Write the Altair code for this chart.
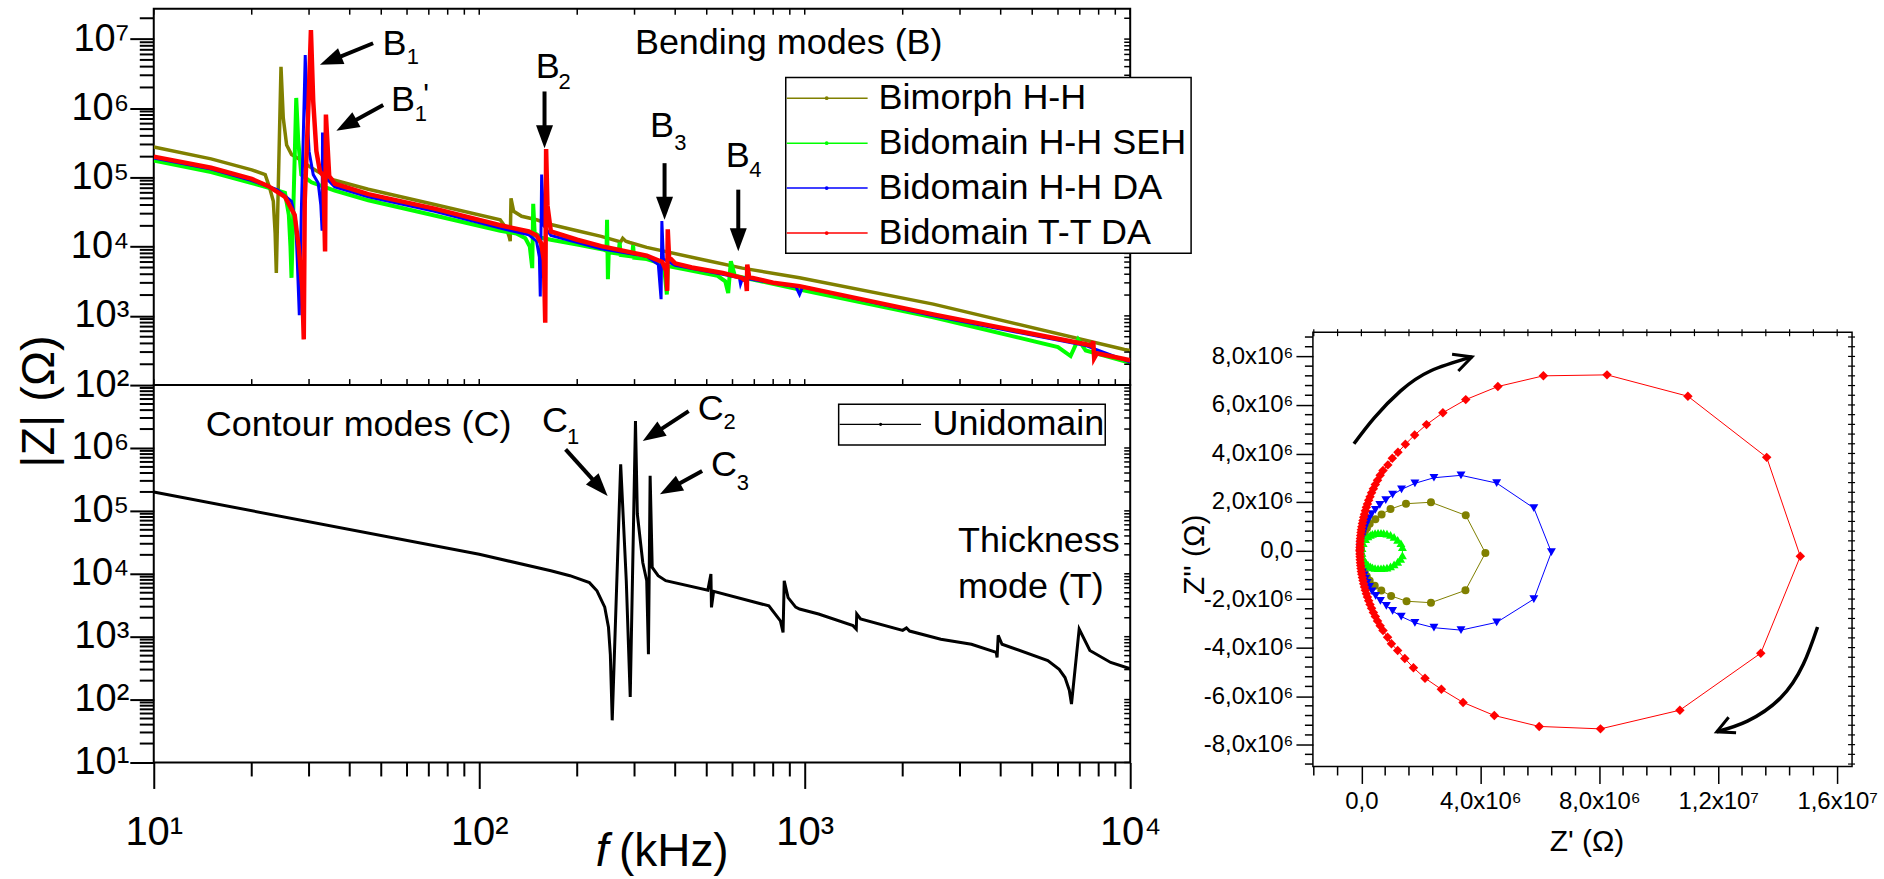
import altair as alt
import pandas as pd

FONT = "Liberation Sans"
OLIVE, GREEN, BLUE, RED = "#808000", "#00ff00", "#0000ff", "#ff0000"

# ================= |Z|(f) - bending modes (top left). f in kHz, |Z| in ohm =================
bim_f = [10, 15, 20, 22.0, 22.7, 23.3, 23.6, 23.8, 24.6, 25.0, 25.6, 26.5, 28.1, 30.5, 34, 36, 45.6, 72.9, 116, 121,
         123.5, 124.5, 125.2, 127.6, 135, 150, 166, 200, 237, 272, 276, 282, 290, 327, 500, 643, 964, 2483, 9600, 10000]
bim_z = [275000, 186000, 129000, 110000, 70800, 45200, 15800, 4170, 3980000, 724000, 295000, 214000, 182000, 138000,
         102000, 91200, 67600, 40700, 24500, 18600, 14100, 12000, 50100, 32400, 27500, 24500, 20900, 17000, 14100,
         11700, 13200, 12000, 11500, 9770, 6310, 4900, 3550, 1480, 327, 316]

seh_f = [10, 15, 20, 23, 25.3, 26.0, 26.3, 26.5, 27.0, 27.4, 27.8, 28.4, 30.5, 36, 45.6, 72.9, 116, 130, 138.6, 143,
         145.5, 146.5, 148, 155, 166, 200, 240, 246, 247, 248.5, 250, 268, 270, 272, 295, 297, 299, 327, 360, 370,
         377, 380, 420, 540, 570, 582, 593, 610, 964, 2483, 6000, 6560, 6920, 7300, 10000]
seh_z = [176000, 120000, 83200, 69200, 60300, 28800, 10000, 3550, 100000, 1410000, 331000, 110000, 85100, 64600,
         46800, 28200, 17000, 15500, 13200, 10000, 4900, 41700, 15800, 13500, 12600, 10700, 9120, 8710, 24500, 3390,
         8320, 7940, 11500, 7590, 7240, 10500, 6920, 6610, 5750, 5010, 2040, 5250, 4790, 3800, 3160, 2140, 6170,
         3800, 2400, 955, 355, 263, 457, 316, 209]

dah_f = [10, 15, 20, 24, 26.5, 27.3, 27.6, 28.0, 28.4, 28.8, 29.2, 29.6, 30.0, 30.9, 32.0, 32.6, 32.9, 33.0, 33.4,
         34.5, 36, 45.6, 72.9, 116, 142, 150, 153, 154, 155.5, 158, 166, 237, 327, 355, 362, 364, 368, 400, 560, 630,
         635, 645, 940, 964, 985, 2483, 7310, 10000]
dah_z = [191000, 132000, 90200, 66100, 45200, 23400, 6310, 1020, 31600, 398000, 5890000, 794000, 240000, 110000,
         83200, 39800, 17000, 447000, 100000, 89100, 73300, 52500, 32400, 18600, 14800, 12000, 7080, 1910, 110000,
         20000, 14500, 9330, 7240, 5500, 1740, 23400, 6610, 5370, 3980, 3550, 2880, 3550, 2630, 2040, 2630, 1000,
         372, 214]

ttd_f = [10, 15, 20, 22.5, 25.3, 27.1, 27.9, 28.6, 28.9, 29.1, 29.9, 30.4, 30.9, 31.6, 32.4, 33.2, 33.6, 33.8, 34.6,
         36, 45.6, 72.9, 116, 142, 150, 155, 158, 159.5, 160.5, 162, 166, 200, 237, 327, 365, 375, 378, 379.5, 383,
         400, 450, 560, 640, 660, 664, 666, 675, 800, 964, 2483, 7310, 7600, 7700, 7750, 7900, 10000]
ttd_z = [200000, 138000, 95500, 75000, 52500, 28800, 9550, 2510, 457, 45700, 1260000, 13500000, 1260000, 240000,
         123000, 105000, 8510, 813000, 105000, 81300, 57500, 35500, 20400, 16600, 14500, 11200, 6310, 794, 257000,
         39800, 16600, 12600, 10200, 7410, 6030, 4470, 2290, 17800, 7080, 5750, 5010, 4170, 3550, 3160, 2290, 5500,
         3630, 3020, 2690, 1050, 389, 372, 427, 245, 288, 229]

# ================= |Z|(f) - unidomain, contour / thickness modes (bottom left) =================
uni_f = [10, 100, 166, 190, 218, 230, 243, 249.5, 252.8, 256.2, 272, 283, 291, 302, 306, 318, 327, 331, 335, 340,
         354.5, 374, 504, 515, 517, 525, 776, 842, 858, 865, 889, 938, 964, 1103, 1407, 1440, 1445, 1485, 2000, 2054,
         2100, 2620, 3253, 3876, 3900, 3931, 4038, 5583, 6050, 6305, 6500, 6601, 6970, 7517, 8710, 10000]
uni_z = [200000, 20400, 11200, 9330, 7240, 5370, 2950, 1410, 525, 46.8, 550000, 7760, 110, 2690000, 89100, 15100,
         7760, 525, 363000, 12600, 9330, 7760, 5500, 9890, 2920, 5250, 3090, 1780, 1170, 7760, 4170, 2950, 2750,
         2290, 1500, 1320, 2290, 1910, 1260, 1380, 1230, 912, 759, 562, 468, 1050, 759, 417, 302, 224, 141, 85,
         1320, 603, 389, 309]

# ================= Nyquist plot (right). Z' and Z'' in units of 10^6 ohm =================
nq_bim_x = [-0.028, -0.018, 0.0, 0.026, 0.064, 0.116, 0.187, 0.28, 0.47, 0.68, 0.98, 1.50, 2.34, 3.51, 4.17, 3.50,
            2.34, 1.52, 1.00, 0.67, 0.45, 0.28, 0.18, 0.11, 0.06, 0.025, 0.0, -0.018, -0.028]
nq_bim_y = [0.10, 0.22, 0.35, 0.48, 0.62, 0.77, 0.93, 1.10, 1.29, 1.49, 1.71, 1.93, 1.99, 1.45, -0.10, -1.64, -2.15,
            -2.09, -1.87, -1.65, -1.45, -1.25, -1.06, -0.88, -0.71, -0.55, -0.40, -0.25, -0.10]

nq_seh_x = [0.02, 0.06, 0.14, 0.22, 0.30, 0.37, 0.46, 0.56, 0.66, 0.75, 0.86, 0.98, 1.10, 1.22, 1.33, 1.38, 1.38,
            1.32, 1.22, 1.10, 0.98, 0.86, 0.75, 0.66, 0.56, 0.46, 0.37, 0.30, 0.22, 0.14, 0.06, 0.02]
nq_seh_y = [0.10, 0.30, 0.47, 0.58, 0.65, 0.69, 0.72, 0.73, 0.73, 0.72, 0.70, 0.65, 0.56, 0.44, 0.30, 0.14, -0.20,
            -0.34, -0.47, -0.57, -0.65, -0.70, -0.72, -0.73, -0.73, -0.72, -0.69, -0.65, -0.58, -0.47, -0.30, -0.10]

nq_dah_x = [-0.029, -0.025, -0.017, -0.005, 0.011, 0.033, 0.059, 0.093, 0.137, 0.19, 0.26, 0.343, 0.47, 0.62, 0.82,
            1.05, 1.35, 1.80, 2.44, 3.35, 4.55, 5.80, 6.39, 5.80, 4.55, 3.35, 2.44, 1.80, 1.34, 1.05, 0.84, 0.64, 0.48,
            0.36, 0.27, 0.19, 0.137, 0.093, 0.059, 0.033, 0.011, -0.005, -0.017, -0.025, -0.029, -0.03]
nq_dah_y = [0.07, 0.18, 0.29, 0.40, 0.51, 0.63, 0.75, 0.88, 1.02, 1.17, 1.33, 1.50, 1.68, 1.88, 2.08, 2.30, 2.52,
            2.77, 3.00, 3.10, 2.78, 1.75, -0.07, -2.00, -2.96, -3.28, -3.18, -2.98, -2.72, -2.49, -2.28, -2.07, -1.87,
            -1.68, -1.50, -1.33, -1.17, -1.02, -0.88, -0.75, -0.63, -0.51, -0.40, -0.29, -0.18, -0.07]

nq_ttd_x = [-0.05, -0.049, -0.045, -0.041, -0.033, -0.024, -0.013, 0.0, 0.015, 0.034, 0.055, 0.078, 0.104, 0.134,
            0.167, 0.204, 0.245, 0.291, 0.343, 0.403, 0.468, 0.542, 0.631, 0.727,
            0.89, 1.04, 1.23, 1.48, 1.79, 2.19, 2.74, 3.51, 4.59, 6.12, 8.26, 10.98, 13.63, 14.76, 13.43, 10.71, 8.04,
            5.98, 4.47, 3.42, 2.69, 2.14, 1.75, 1.46, 1.22, 1.01, 0.88,
            0.727, 0.631, 0.542, 0.468, 0.403, 0.343, 0.291, 0.245, 0.204, 0.167, 0.134, 0.104, 0.078, 0.055, 0.034,
            0.015, 0.0, -0.013, -0.024, -0.033, -0.041, -0.045, -0.049, -0.05]
nq_ttd_y = [0.02, 0.14, 0.26, 0.38, 0.50, 0.62, 0.74, 0.86, 0.98, 1.11, 1.24, 1.37, 1.50, 1.64, 1.78, 1.92, 2.07,
            2.22, 2.38, 2.55, 2.72, 2.90, 3.10, 3.30,
            3.53, 3.80, 4.05, 4.38, 4.76, 5.19, 5.68, 6.22, 6.76, 7.20, 7.24, 6.36, 3.84, -0.24, -4.23, -6.58, -7.35,
            -7.25, -6.80, -6.26, -5.72, -5.26, -4.83, -4.45, -4.12, -3.84, -3.57,
            -3.30, -3.10, -2.90, -2.72, -2.55, -2.38, -2.22, -2.07, -1.92, -1.78, -1.64, -1.50, -1.37, -1.24, -1.11,
            -0.98, -0.86, -0.74, -0.62, -0.50, -0.38, -0.26, -0.14, -0.02]

# rotation arrows in the Nyquist plot (curve points, then the open heads)
nq_arrow_x = [-0.25, 0.44, 1.32, 2.32, 3.72, 15.34, 14.86, 14.10, 12.98, 11.95]
nq_arrow_y = [4.40, 5.48, 6.58, 7.40, 7.98, -3.15, -4.69, -6.07, -7.03, -7.47]
nq_arrow_g = [0, 0, 0, 0, 0, 1, 1, 1, 1, 1]
nq_head_x = [3.05, 3.72, 3.26, 12.60, 11.95, 12.35]
nq_head_y = [8.09, 7.98, 7.40, -7.51, -7.47, -6.87]
nq_head_g = [0, 0, 0, 1, 1, 1]

# annotation anchors (data units)
b_lab_f = [54.9, 58.3, 162.3, 364, 623]
b_lab_z = [8.6e6, 1.3e6, 3.94e6, 5.46e5, 2.05e5]
b_sub_f = [62.5, 66.2, 182.9, 415, 705]
b_sub_z = [5.6e6, 8.3e5, 2.36e6, 3.2e5, 1.27e5]
b_sub_t = ["1", "1", "2", "3", "4"]
b_arr_tail_f = [47.2, 50.7, 158.7, 371, 625]
b_arr_tail_z = [8.7e6, 1.12e6, 1.75e6, 1.61e5, 6.67e4]
b_arr_end_f = [35.7, 39.95, 158.7, 371, 625]
b_arr_end_z = [5.1e6, 6.04e5, 4.38e5, 4.05e4, 1.41e4]
b_arr_tip_f = [32.4, 36.4, 158.7, 371, 625]
b_arr_tip_z = [4.25e6, 4.73e5, 2.65e5, 2.46e4, 8.6e3]
b_arr_ang = [248, 241, 180, 180, 180]

c_lab_f = [171, 514, 565]
c_lab_z = [2.68e6, 4.24e6, 5.33e5]
c_sub_f = [194.2, 588, 646]
c_sub_z = [1.52e6, 2.6e6, 2.74e5]
c_sub_t = ["1", "2", "3"]
c_arr_tail_f = [184.2, 440, 484]
c_arr_tail_z = [9.5e5, 3.86e6, 4.31e5]
c_arr_end_f = [231, 347.6, 393.9]
c_arr_end_z = [2.59e5, 1.74e6, 2.39e5]
c_arr_tip_f = [248, 318, 359]
c_arr_tip_z = [1.73e5, 1.29e6, 1.84e5]
c_arr_ang = [138, 237, 241]

legend_names = ["Bimorph H-H", "Bidomain H-H SEH", "Bidomain H-H DA", "Bidomain T-T DA"]
legend_colors = [OLIVE, GREEN, BLUE, RED]

# ---------------------------------------------------------------------------------------------
def fz(fs, zs):
    return pd.DataFrame({"f": fs, "z": zs, "i": list(range(len(fs)))})


def xy(xs, ys, g=None):
    d = pd.DataFrame({"x": xs, "y": ys, "i": list(range(len(xs)))})
    if g is not None:
        d["g"] = g
    return d


ONE = pd.DataFrame({"k": [0]})
HEAD = "M0,0L-0.37,1L0.37,1Z"

X_MAJOR = [10, 100, 1000, 10000]
X_MINOR = [m * 10 ** k for k in (1, 2, 3) for m in range(2, 10)]
YT_MAJOR = [10 ** k for k in range(2, 8)]
YT_MINOR = [m * 10 ** k for k in range(2, 7) for m in range(2, 10)] + [2 * 10 ** 7]
YB_MAJOR = [10 ** k for k in range(1, 7)]
YB_MINOR = [m * 10 ** k for k in range(1, 7) for m in range(2, 10)]
SUP = "'10' + substring('⁰¹²³⁴⁵⁶⁷⁸⁹', round(log(datum.value)/LN10), round(log(datum.value)/LN10) + 1)"

x_scale = alt.Scale(type="log", domain=[10, 10000], nice=False)
yt_scale = alt.Scale(type="log", domain=[100, 2.75e7], nice=False)
yb_scale = alt.Scale(type="log", domain=[10, 1e7], nice=False)

common = dict(tickWidth=2, tickColor="black", labelColor="black", labelFont=FONT, labelOverlap=False,
              domain=False, grid=False, labelExpr=SUP)

ax_yt = alt.Axis(values=YT_MAJOR, tickSize=24, labelFontSize=38, labelPadding=1,
                 title="|Z| (Ω)", titleFont=FONT, titleFontSize=47, titleFontWeight="normal", titleColor="black",
                 titleAngle=270, titleAlign="center", titleBaseline="middle", titleX=-114, titleY=393, **common)
ax_yb = alt.Axis(values=YB_MAJOR, tickSize=24, labelFontSize=38, labelPadding=1, title="", **common)
ax_xb = alt.Axis(values=X_MAJOR, tickSize=26, labelFontSize=40, labelPadding=24, labelFlush=False, title="",
                 **common)


def xt(field):
    return alt.X(field, type="quantitative", scale=x_scale, axis=None)


def yt(field):
    return alt.Y(field, type="quantitative", scale=yt_scale, axis=ax_yt)


def xb(field):
    return alt.X(field, type="quantitative", scale=x_scale, axis=ax_xb)


def yb(field):
    return alt.Y(field, type="quantitative", scale=yb_scale, axis=ax_yb)


def txt(df, size, align="center", style="normal", baseline="middle"):
    return alt.Chart(df).mark_text(font=FONT, fontSize=size, align=align, baseline=baseline, color="black",
                                   fontStyle=style)


def tick_rules(vals, enc_field, horizontal, a, b, width=2):
    """Short tick rules at data values (through the panel's scale), spanning pixels a..b across."""
    d = pd.DataFrame({"v": vals})
    ch = alt.Chart(d).mark_rule(color="black", strokeWidth=width)
    if horizontal:   # ticks for a y value
        return ch.encode(y=enc_field("v"), x=alt.value(a), x2=alt.value(b))
    return ch.encode(x=enc_field("v"), y=alt.value(a), y2=alt.value(b))


# ---------------- top panel ----------------
top_layers = []
for fs, zs, col, w in [(bim_f, bim_z, OLIVE, 3.5), (seh_f, seh_z, GREEN, 4), (dah_f, dah_z, BLUE, 3),
                       (ttd_f, ttd_z, RED, 4.5)]:
    top_layers.append(alt.Chart(fz(fs, zs)).mark_line(color=col, strokeWidth=w, clip=True)
                      .encode(x=xt("f"), y=yt("z"), order="i:Q"))

b_arr = pd.DataFrame({"f": b_arr_tail_f, "z": b_arr_tail_z, "f2": b_arr_end_f, "z2": b_arr_end_z,
                      "ft": b_arr_tip_f, "zt": b_arr_tip_z, "ang": b_arr_ang})
top_layers.append(alt.Chart(b_arr).mark_rule(color="black", strokeWidth=4)
                  .encode(x=xt("f"), y=yt("z"), x2="f2:Q", y2="z2:Q"))
top_layers.append(alt.Chart(b_arr).mark_point(shape=HEAD, filled=True, size=2116, color="black", opacity=1)
                  .encode(x=xt("ft"), y=yt("zt"), angle=alt.Angle("ang:Q", scale=None)))
top_layers.append(txt(pd.DataFrame({"f": b_lab_f, "z": b_lab_z, "t": ["B"] * 5}), 36)
                  .encode(x=xt("f"), y=yt("z"), text="t:N"))
top_layers.append(txt(pd.DataFrame({"f": b_sub_f, "z": b_sub_z, "t": b_sub_t}), 22)
                  .encode(x=xt("f"), y=yt("z"), text="t:N"))
top_layers.append(txt(pd.DataFrame({"f": [68.7], "z": [1.53e6], "t": ["'"]}), 30)
                  .encode(x=xt("f"), y=yt("z"), text="t:N"))
top_layers.append(txt(pd.DataFrame({"f": [893], "z": [8.9e6], "t": ["Bending modes (B)"]}), 36)
                  .encode(x=xt("f"), y=yt("z"), text="t:N"))

# minor ticks (outside, left) and small inner ticks on the other borders
top_layers.append(tick_rules(YT_MINOR, yt, True, -14, 0))
top_layers.append(tick_rules(YT_MAJOR + YT_MINOR, yt, True, 972, 978, 1.5))
top_layers.append(tick_rules(X_MAJOR + X_MINOR, xt, False, 0, 6, 1.5))
top_layers.append(tick_rules(X_MAJOR + X_MINOR, xt, False, 371, 377, 1.5))

# legend (layout in pixels of the panel)
top_layers.append(alt.Chart(ONE).mark_rect(fill="white", stroke="black", strokeWidth=1.5)
                  .encode(x=alt.value(633), x2=alt.value(1039), y=alt.value(69), y2=alt.value(245)))
for k, (name, col) in enumerate(zip(legend_names, legend_colors)):
    ry = 89.7 + 45 * k
    top_layers.append(alt.Chart(ONE).mark_rule(color=col, strokeWidth=1.5)
                      .encode(x=alt.value(634), x2=alt.value(715), y=alt.value(ry)))
    top_layers.append(alt.Chart(ONE).mark_point(filled=True, size=14, color=col, opacity=1)
                      .encode(x=alt.value(674), y=alt.value(ry)))
    top_layers.append(txt(pd.DataFrame({"t": [name]}), 36, align="left")
                      .encode(x=alt.value(726), y=alt.value(ry), text="t:N"))

top = alt.layer(*top_layers).properties(width=978, height=377)

# ---------------- bottom panel ----------------
bot_layers = [alt.Chart(fz(uni_f, uni_z)).mark_line(color="black", strokeWidth=3, clip=True)
              .encode(x=xb("f"), y=yb("z"), order="i:Q")]
c_arr = pd.DataFrame({"f": c_arr_tail_f, "z": c_arr_tail_z, "f2": c_arr_end_f, "z2": c_arr_end_z,
                      "ft": c_arr_tip_f, "zt": c_arr_tip_z, "ang": c_arr_ang})
bot_layers.append(alt.Chart(c_arr).mark_rule(color="black", strokeWidth=4)
                  .encode(x=xb("f"), y=yb("z"), x2="f2:Q", y2="z2:Q"))
bot_layers.append(alt.Chart(c_arr).mark_point(shape=HEAD, filled=True, size=2116, color="black", opacity=1)
                  .encode(x=xb("ft"), y=yb("zt"), angle=alt.Angle("ang:Q", scale=None)))
bot_layers.append(txt(pd.DataFrame({"f": c_lab_f, "z": c_lab_z, "t": ["C"] * 3}), 36)
                  .encode(x=xb("f"), y=yb("z"), text="t:N"))
bot_layers.append(txt(pd.DataFrame({"f": c_sub_f, "z": c_sub_z, "t": c_sub_t}), 22)
                  .encode(x=xb("f"), y=yb("z"), text="t:N"))
bot_layers.append(txt(pd.DataFrame({"f": [42.6], "z": [2.36e6], "t": ["Contour modes (C)"]}), 36)
                  .encode(x=xb("f"), y=yb("z"), text="t:N"))
bot_layers.append(txt(pd.DataFrame({"f": [2958, 2958], "z": [3.28e4, 6.22e3], "t": ["Thickness", "mode (T)"]}),
                      36, align="left").encode(x=xb("f"), y=yb("z"), text="t:N"))
bot_layers.append(tick_rules(YB_MINOR, yb, True, -14, 0))
bot_layers.append(tick_rules(YB_MAJOR + YB_MINOR + [10 ** 7], yb, True, 972, 978, 1.5))
bot_layers.append(tick_rules(X_MINOR, xb, False, 378, 392))
# legend
bot_layers.append(alt.Chart(ONE).mark_rect(fill="white", stroke="black", strokeWidth=1.5)
                  .encode(x=alt.value(686), x2=alt.value(953), y=alt.value(19.3), y2=alt.value(60)))
bot_layers.append(alt.Chart(ONE).mark_rule(color="black", strokeWidth=1.2)
                  .encode(x=alt.value(687), x2=alt.value(768.5), y=alt.value(39.3)))
bot_layers.append(alt.Chart(ONE).mark_point(filled=True, size=10, color="black", opacity=1)
                  .encode(x=alt.value(728), y=alt.value(39.3)))
bot_layers.append(txt(pd.DataFrame({"t": ["Unidomain"]}), 36, align="left")
                  .encode(x=alt.value(780), y=alt.value(39.3), text="t:N"))
# x-axis title with italic f
bot_layers.append(txt(pd.DataFrame({"t": ["f"]}), 46, style="italic", baseline="alphabetic")
                  .encode(x=alt.value(449), y=alt.value(482), text="t:N"))
bot_layers.append(txt(pd.DataFrame({"t": ["(kHz)"]}), 46, align="left", baseline="alphabetic")
                  .encode(x=alt.value(466), y=alt.value(482), text="t:N"))

bottom = alt.layer(*bot_layers).properties(width=978, height=378)

# ---------------- right panel (Nyquist) ----------------
XR_MAJOR = [0, 4, 8, 12, 16]
XR_MINOR = [round(k * 0.8, 2) for k in range(-2, 21) if k % 5 != 0]
YR_MAJOR = [-8, -6, -4, -2, 0, 2, 4, 6, 8]
YR_MINOR = [round(k * 0.4, 2) for k in range(-22, 23) if k % 5 != 0]
xr_scale = alt.Scale(domain=[-1.63, 16.5], nice=False, zero=False)
yr_scale = alt.Scale(domain=[-8.9, 9.0], range=[759, 324], nice=False, zero=False)

rcommon = dict(tickWidth=1.5, tickColor="black", labelColor="black", labelFont=FONT, labelOverlap=False,
               domain=False, grid=False, labelFontSize=24, tickSize=17, titleFont=FONT, titleFontSize=30,
               titleFontWeight="normal", titleColor="black", titleAlign="center", titleBaseline="middle")
ax_xr = alt.Axis(values=XR_MAJOR,
                 labelExpr="datum.value == 0 ? '0,0' : (datum.value >= 10 ? "
                           "replace(format(datum.value/10, '.1f'), '.', ',') + 'x10⁷' : "
                           "replace(format(datum.value, '.1f'), '.', ',') + 'x10⁶')",
                 labelPadding=6, labelFlush=False, offset=382, title="Z' (Ω)", titleX=274, titleY=75, **rcommon)
ax_yr = alt.Axis(values=YR_MAJOR,
                 labelExpr="datum.value == 0 ? '0,0' : (datum.value < 0 ? '-' : '') + "
                           "replace(format(abs(datum.value), '.1f'), '.', ',') + 'x10⁶'",
                 labelPadding=3, title="Z'' (Ω)", titleAngle=270, titleX=-119, titleY=546.5, **rcommon)


def xr(field):
    return alt.X(field, type="quantitative", scale=xr_scale, axis=ax_xr)


def yr(field):
    return alt.Y(field, type="quantitative", scale=yr_scale, axis=ax_yr)


r_layers = [alt.Chart(pd.DataFrame({"x": [-1.63], "x2": [16.5], "y": [-8.9], "y2": [9.0]}))
            .mark_rect(fillOpacity=0, stroke="black", strokeWidth=1.5)
            .encode(x=xr("x"), y=yr("y"), x2="x2:Q", y2="y2:Q")]
r_layers.append(tick_rules(YR_MINOR, yr, True, -8, 0, 1.5))
r_layers.append(tick_rules(XR_MINOR, xr, False, 759, 768, 1.5))
r_layers.append(tick_rules(XR_MAJOR + XR_MINOR, xr, False, 321, 328, 1.2))
r_layers.append(tick_rules(YR_MAJOR + YR_MINOR, yr, True, 536, 543, 1.2))
for xs, ys, col, shp, sz in [(nq_bim_x, nq_bim_y, OLIVE, "circle", 64), (nq_dah_x, nq_dah_y, BLUE, "triangle-down", 80),
                             (nq_seh_x, nq_seh_y, GREEN, "triangle-up", 80), (nq_ttd_x, nq_ttd_y, RED, "diamond", 90)]:
    d = xy(xs, ys)
    r_layers.append(alt.Chart(d).mark_line(color=col, strokeWidth=1).encode(x=xr("x"), y=yr("y"), order="i:Q"))
    r_layers.append(alt.Chart(d).mark_point(shape=shp, filled=True, size=sz, color=col, opacity=1)
                    .encode(x=xr("x"), y=yr("y")))
r_layers.append(alt.Chart(xy(nq_arrow_x, nq_arrow_y, nq_arrow_g))
                .mark_line(color="black", strokeWidth=3.5, interpolate="natural")
                .encode(x=xr("x"), y=yr("y"), detail="g:N", order="i:Q"))
r_layers.append(alt.Chart(xy(nq_head_x, nq_head_y, nq_head_g)).mark_line(color="black", strokeWidth=3)
                .encode(x=xr("x"), y=yr("y"), detail="g:N", order="i:Q"))

right = alt.layer(*r_layers).properties(width=540, height=377, view=alt.ViewBackground(stroke="transparent"))

chart = alt.concat(top, right, bottom, columns=2, spacing={"row": 0, "column": 183}, bounds="flush",
                   align="each").properties(
    padding={"left": 15, "top": 6, "right": 5, "bottom": 0},
    autosize=alt.AutoSizeParams(type="pad"),
    background="white",
).configure_view(stroke="black", strokeWidth=2)

chart.save("out.html", embed_options={"renderer": "svg", "actions": False})
